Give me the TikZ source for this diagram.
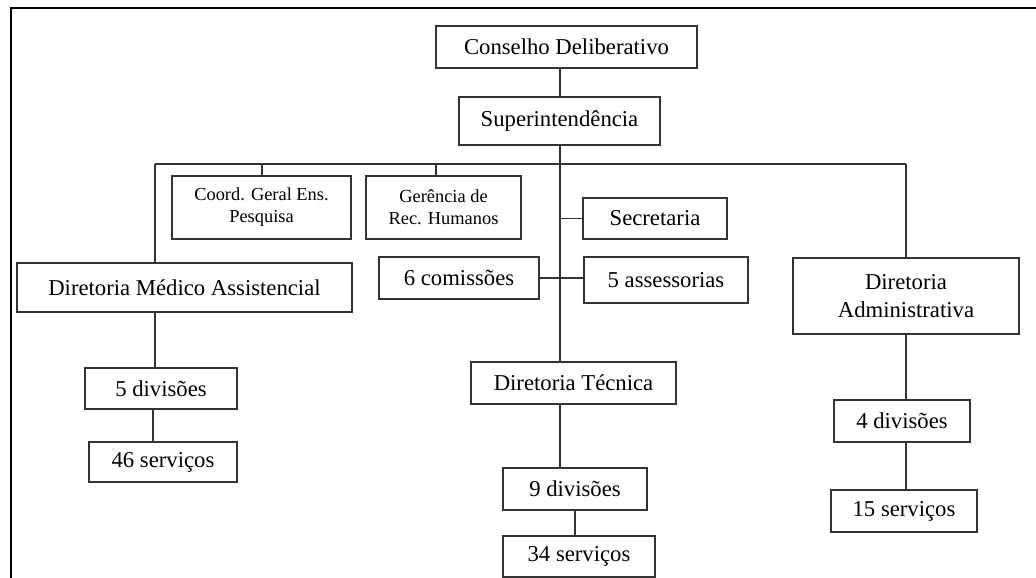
\documentclass[tikz,border=0pt]{standalone}
\usepackage{fontspec}
\setmainfont{Liberation Serif}
\begin{document}
\begin{tikzpicture}[
    x=1pt, y=-1pt,
    unit/.style={rectangle, draw=black!80, line width=1.6pt, inner sep=0pt, align=center,
                 text=black, font=\fontsize{22.7}{28}\selectfont},
    small/.style={unit, font=\fontsize{18.4}{22}\selectfont},
    link/.style={draw=black!80, line width=1.4pt}
]
\useasboundingbox (0,0) rectangle (1036,578);
% outer frame (cut off at right and bottom)
\draw[line width=2pt] (11,578) -- (11,8) -- (1036,8);

% top
\node[unit, minimum width=261, minimum height=42] (cons) at (566.5,47) {Conselho Deliberativo};
\node[unit, minimum width=201, minimum height=48] (sup) at (559.5,121) {Superintendência};

% staff units
\node[small, minimum width=179, minimum height=63] (coord) at (261.5,207.5) {Coord. Geral Ens.\\Pesquisa};
\node[small, minimum width=155, minimum height=63] (ger) at (443.5,207.5) {Gerência de\\Rec. Humanos};
\node[unit, minimum width=144, minimum height=41] (sec) at (655,218.5) {Secretaria};
\node[unit, minimum width=160, minimum height=42] (com) at (459,278) {6 comissões};
\node[unit, minimum width=164, minimum height=46] (ass) at (666,280) {5 assessorias};

% directorates
\node[unit, minimum width=335, minimum height=49] (dma) at (184.5,287.5) {Diretoria Médico Assistencial};
\node[unit, minimum width=205, minimum height=42] (dt) at (573.5,383) {Diretoria Técnica};
\node[unit, minimum width=226, minimum height=76] (dad) at (906,296) {Diretoria\\Administrativa};

% divisions and services
\node[unit, minimum width=152, minimum height=41] (div5) at (161,388.5) {5 divisões};
\node[unit, minimum width=148, minimum height=40] (ser46) at (163,462) {46 serviços};
\node[unit, minimum width=144, minimum height=42] (div9) at (575,489) {9 divisões};
\node[unit, minimum width=152, minimum height=41] (ser34) at (579,556.5) {34 serviços};
\node[unit, minimum width=136, minimum height=42] (div4) at (902,421) {4 divisões};
\node[unit, minimum width=146, minimum height=42] (ser15) at (904,511) {15 serviços};

% bar
\coordinate (barL) at (155,164);
\coordinate (barR) at (906,164);
\coordinate (trunk) at (560,164);

% connectors
\draw[link] (cons.south -| trunk) -- (sup.north -| trunk);
\draw[link] (sup.south -| trunk) -- (dt.north -| trunk);
\draw[link] (barL) -- (barR);
\draw[link] (barL) -- (barL |- dma.north);
\draw[link] (barR) -- (dad.north);
\draw[link] (coord.north -| 262,0) -- (barL -| 262,0);
\draw[link] (ger.north -| 436,0) -- (barL -| 436,0);
\draw[link] (sec.west) -- (sec.west -| trunk);
\draw[link] (com.east) -- (ass.west |- com.east);
\draw[link] (barL |- dma.south) -- (barL |- div5.north);
\draw[link] (div5.south -| 153,0) -- (ser46.north -| 153,0);
\draw[link] (dt.south -| trunk) -- (div9.north -| trunk);
\draw[link] (div9.south) -- (div9.south |- ser34.north);
\draw[link] (dad.south) -- (div4.north -| dad.south);
\draw[link] (div4.south -| dad.south) -- (ser15.north -| dad.south);
\end{tikzpicture}
\end{document}
